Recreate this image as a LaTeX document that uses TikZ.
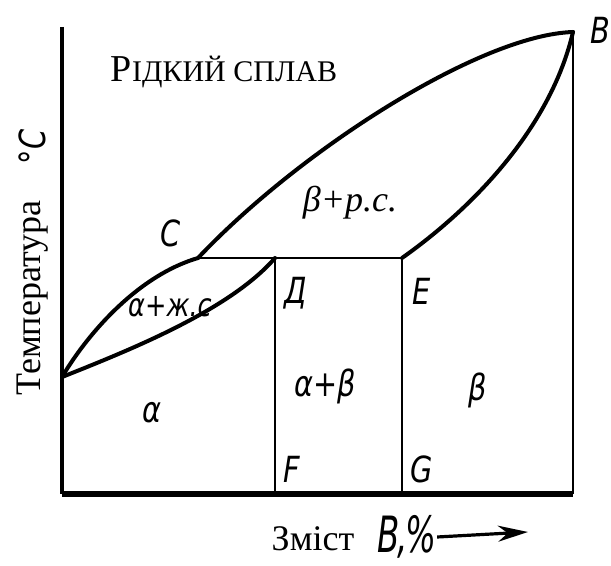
\documentclass[tikz,border=0pt]{standalone}
\usepackage{fontspec}
\setmainfont{Liberation Serif}
\newfontfamily\gostfont[FakeStretch=0.8]{DejaVu Sans}
\newfontfamily\gostnarrow[FakeStretch=0.65]{DejaVu Sans}
\usetikzlibrary{arrows.meta, positioning}

\begin{document}
\begin{tikzpicture}[
  x=0.5pt, y=-0.5pt,
  curve/.style={line width=2pt, line cap=round},
  border/.style={line width=1.3pt},
  lbl/.style={font=\gostfont\itshape\fontsize{18}{18}\selectfont, inner sep=0pt},
  txt/.style={font=\fontsize{18}{18}\selectfont, inner sep=0pt},
  arr/.style={-{Stealth[length=15pt, width=8pt]}, line width=1.6pt}
]
  \useasboundingbox (0,0) rectangle (611,566);
  % points of the diagram
  \coordinate (top) at (62,27);
  \coordinate (O) at (62,494);
  \coordinate (A) at (62,377);
  \coordinate (C) at (198,258);
  \coordinate (D) at (275,258);
  \coordinate (E) at (402,258);
  \coordinate (B) at (573,32);
  \coordinate (F) at (275,494);
  \coordinate (G) at (402,494);
  \coordinate (R) at (573,494);

  % axes and frame
  \draw[line width=2pt] (top) -- (O);
  \draw[line width=2.6pt] (O) -- (R);
  \draw[border] (R) -- (B);

  % liquidus and solidus
  \draw[curve] (A) .. controls (90,330) and (140,275) .. (C)
               .. controls (300,150) and (480,35) .. (B);
  \draw[curve] (B) .. controls (550,130) and (470,210) .. (E);
  \draw[curve] (A) .. controls (130,350) and (230,310) .. (D);
  \draw[border] (C) -- (E);
  \draw[border] (D) -- (F);
  \draw[border] (E) -- (G);

  % point labels
  \node[lbl] (lC) at (171,233) {C};
  \node[lbl] (lD) at (296,293) {Д};
  \node[lbl] (lE) at (422,291) {E};
  \node[lbl] (lF) at (292,469) {F};
  \node[lbl] (lG) at (422,469) {G};
  \node[lbl, anchor=east] (lB) at (611,30) {B};

  % phase regions
  \node[lbl, font=\gostfont\itshape\fontsize{16}{16}\selectfont] (aliq) at (170,307) {α+ж.с};
  \node[lbl] (alpha) at (152,413) {α};
  \node[lbl] (ab) at (325,386) {α+β};
  \node[lbl] (beta) at (478,390) {β};
  \node[txt, font=\itshape\fontsize{18}{18}\selectfont, anchor=base] (bliq) at (350,212) {β+р.с.};
  \node[txt, font=\fontsize{19}{19}\selectfont, anchor=base] (liquid) at (224,82)
    {Р{\fontsize{15}{15}\selectfont ІДКИЙ СПЛАВ}};

  % axis titles
  \node[txt, rotate=90] (temp) at (33,298) {Температура};
  \node[lbl, rotate=90] (unit) at (32,147) {°C};
  \node[txt, anchor=base] (cont) at (313,551) {Зміст};
  \node[lbl, font=\gostnarrow\itshape\fontsize{25}{25}\selectfont] (pct) at (407,537) {B\kern-1pt,\kern-1pt\%};
  \coordinate (tip) at (528,532);
  \draw[arr] (pct.east) -- (tip);
\end{tikzpicture}
\end{document}
